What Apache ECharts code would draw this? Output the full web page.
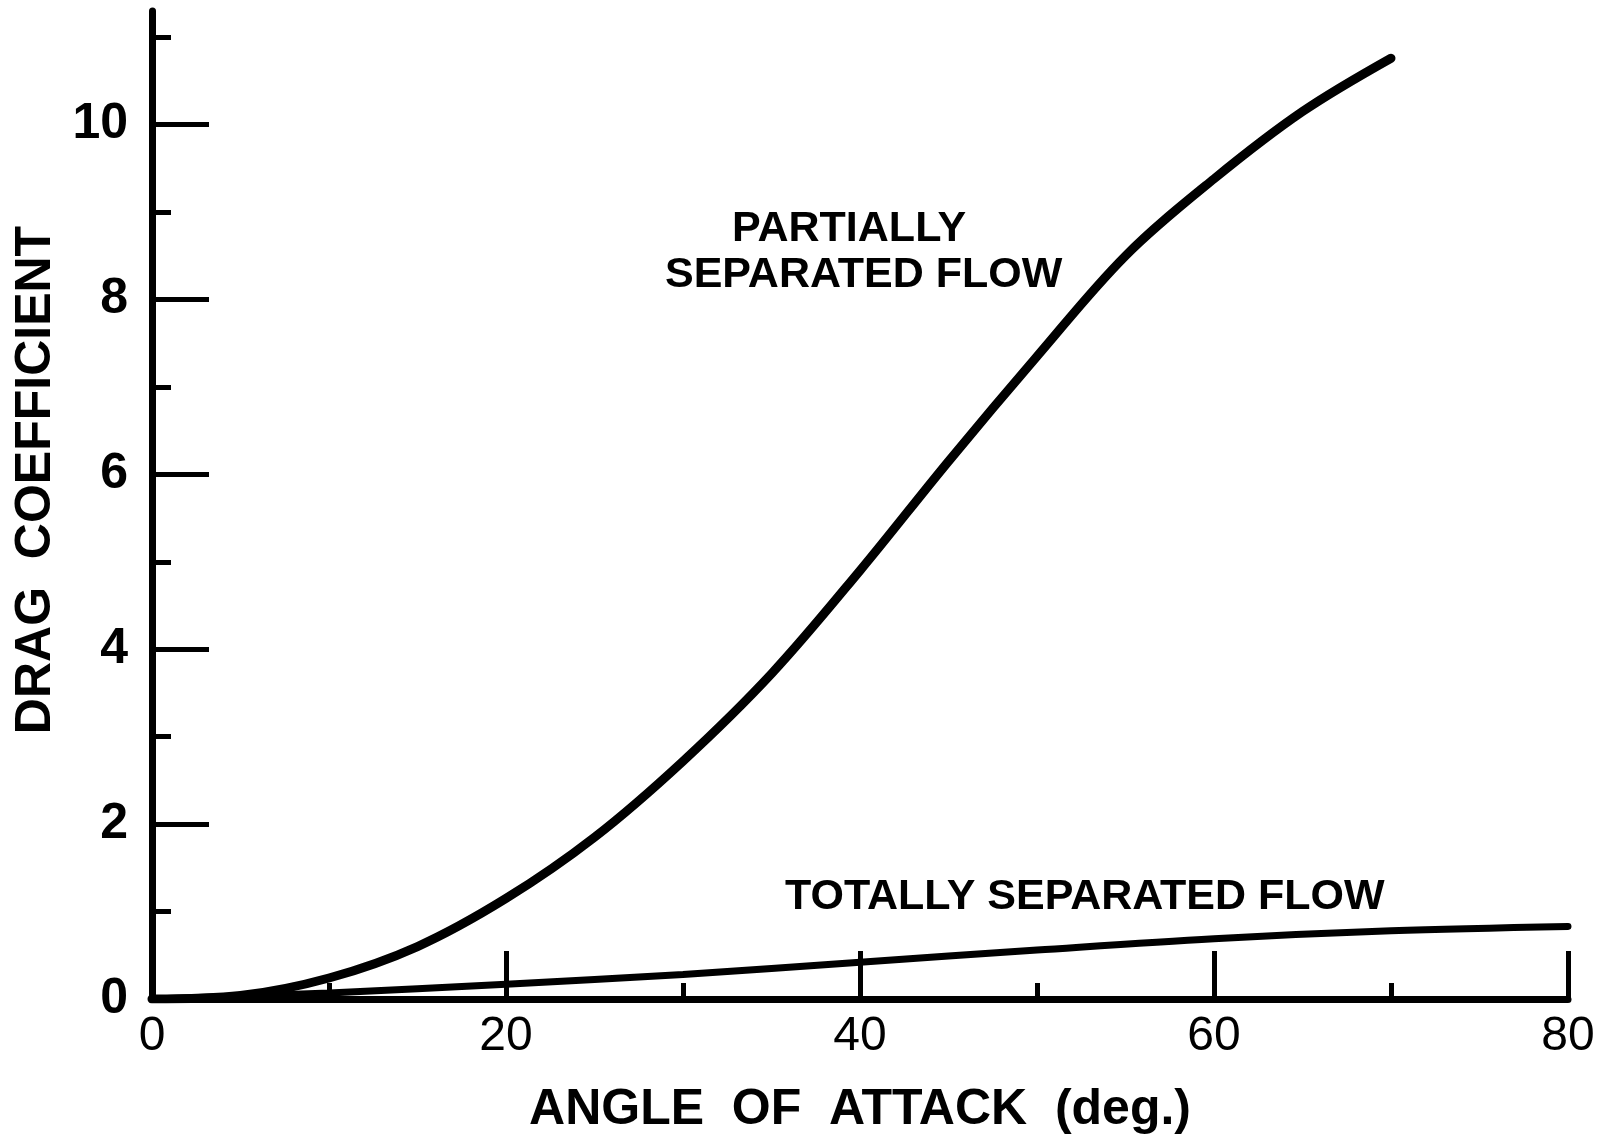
<!DOCTYPE html>
<html>
<head>
<meta charset="utf-8">
<script src="https://cdn.jsdelivr.net/npm/echarts@6/dist/echarts.min.js"></script>
<style>
  html, body { margin: 0; padding: 0; background: #fff; }
  #chart { width: 1609px; height: 1140px; }
</style>
</head>
<body>
<div id="chart"></div>
<script>
// curve
var partialAngle = [0, 5, 10, 15, 20, 25, 30, 35, 40, 45, 50, 55, 60, 65, 70];
var partialCd = [0, 0.04, 0.24, 0.6, 1.15, 1.85, 2.72, 3.72, 4.9, 6.15, 7.35, 8.5, 9.38, 10.15, 10.76];
var totalAngle = [0, 10, 20, 30, 40, 50, 60, 70, 80];
var totalCd = [0, 0.07, 0.17, 0.28, 0.42, 0.56, 0.69, 0.78, 0.83];

var xMajorTicks = [0, 20, 40, 60, 80];
var xMinorTicks = [10, 30, 50, 70];
var yMajorTicks = [0, 2, 4, 6, 8, 10];
var yMinorTicks = [1, 3, 5, 7, 9, 11];

var font = 'Liberation Sans';
var ink = '#000';

function pairs(xs, ys) {
  var out = [];
  for (var i = 0; i < xs.length; i++) out.push([xs[i], ys[i]]);
  return out;
}

var myChart = echarts.init(document.getElementById('chart'));
var option = {
  backgroundColor: '#fff',
  animation: false,
  grid: { left: 152, right: 41, top: 11, bottom: 137 },
  xAxis: [{
    type: 'value', min: 0, max: 80,
    name: 'ANGLE  OF  ATTACK  (deg.)',
    nameLocation: 'middle', nameGap: 86,
    nameTextStyle: { fontFamily: font, fontSize: 50, fontWeight: 'bold', color: ink },
    axisLine: { show: true, lineStyle: { color: ink, width: 7 } },
    axisTick: { show: true, inside: true, length: 48, customValues: xMajorTicks, lineStyle: { color: ink, width: 5 } },
    axisLabel: { customValues: xMajorTicks, margin: 14, fontFamily: font, fontSize: 48, color: ink },
    splitLine: { show: false }
  }, {
    type: 'value', min: 0, max: 80, position: 'bottom',
    axisLine: { show: false },
    axisTick: { show: true, inside: true, length: 16, customValues: xMinorTicks, lineStyle: { color: ink, width: 5 } },
    axisLabel: { show: false },
    splitLine: { show: false }
  }],
  yAxis: [{
    type: 'value', min: 0, max: 11.3,
    name: 'DRAG  COEFFICIENT',
    nameLocation: 'middle', nameGap: 87,
    nameTextStyle: { fontFamily: font, fontSize: 50, fontWeight: 'bold', color: ink, padding: [0, 0, 0, 50] },
    axisLine: { show: true, lineStyle: { color: ink, width: 7 } },
    axisTick: { show: true, inside: true, length: 57, customValues: yMajorTicks, lineStyle: { color: ink, width: 5 } },
    axisLabel: { customValues: yMajorTicks, margin: 24, fontFamily: font, fontSize: 50, fontWeight: 'bold', color: ink },
    splitLine: { show: false }
  }, {
    type: 'value', min: 0, max: 11.3, position: 'left',
    axisLine: { show: false },
    axisTick: { show: true, inside: true, length: 19, customValues: yMinorTicks, lineStyle: { color: ink, width: 5 } },
    axisLabel: { show: false },
    splitLine: { show: false }
  }],
  graphic: {
    elements: [{
      type: 'text', left: 732, top: 208,
      style: { text: 'PARTIALLY', font: 'bold 43px "Liberation Sans"', fill: ink }
    }, {
      type: 'text', left: 665, top: 254,
      style: { text: 'SEPARATED FLOW', font: 'bold 43px "Liberation Sans"', fill: ink }
    }, {
      type: 'text', left: 785, top: 876,
      style: { text: 'TOTALLY SEPARATED FLOW', font: 'bold 43px "Liberation Sans"', fill: ink }
    }]
  },
  series: [{
    name: 'Partially separated flow',
    type: 'line', smooth: 0.35, showSymbol: false,
    xAxisIndex: 0, yAxisIndex: 0,
    lineStyle: { color: ink, width: 9, cap: 'round' },
    data: pairs(partialAngle, partialCd)
  }, {
    name: 'Totally separated flow',
    type: 'line', smooth: 0.35, showSymbol: false,
    xAxisIndex: 0, yAxisIndex: 0,
    lineStyle: { color: ink, width: 7, cap: 'round' },
    data: pairs(totalAngle, totalCd)
  }]
};
myChart.setOption(option);
</script>
</body>
</html>
